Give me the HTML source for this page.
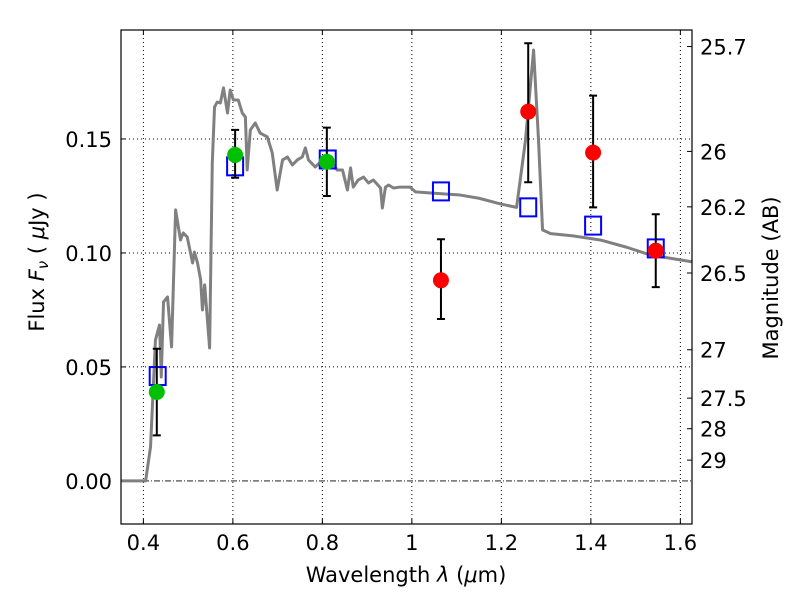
<!DOCTYPE html>
<html><head><meta charset="utf-8"><style>
body{margin:0;background:#fff}
svg text{font-family:"DejaVu Sans","Liberation Sans",sans-serif;font-size:21px;fill:#000}
</style></head><body>
<svg id="c" width="800" height="600" xmlns="http://www.w3.org/2000/svg"></svg>
<script>
const specX=[0.351,0.405,0.416,0.427,0.436,0.440,0.445,0.454,0.463,0.472,0.483,0.489,0.498,0.510,0.514,0.521,0.528,0.532,0.537,0.548,0.554,0.559,0.565,0.572,0.579,0.588,0.594,0.601,0.612,0.621,0.628,0.632,0.639,0.650,0.661,0.677,0.688,0.699,0.711,0.722,0.733,0.744,0.755,0.762,0.769,0.784,0.800,0.813,0.833,0.845,0.856,0.863,0.869,0.880,0.892,0.903,0.914,0.930,0.934,0.941,0.948,0.959,0.974,0.996,1.008,1.050,1.108,1.150,1.198,1.234,1.254,1.272,1.283,1.292,1.310,1.360,1.421,1.480,1.533,1.627];
const specY=[0,0,0.0149,0.0618,0.0684,0.0456,0.0785,0.0807,0.0588,0.1189,0.1057,0.1088,0.1070,0.0956,0.1004,0.0956,0.0882,0.0750,0.0860,0.0583,0.1395,0.1640,0.1662,0.1658,0.1724,0.1614,0.1715,0.1671,0.1671,0.1614,0.1596,0.1364,0.1539,0.1570,0.1526,0.1509,0.1439,0.1276,0.1408,0.1421,0.1386,0.1408,0.1421,0.1461,0.1408,0.1377,0.1408,0.1421,0.1364,0.1364,0.1276,0.1373,0.1289,0.1320,0.1333,0.1307,0.1320,0.1285,0.1197,0.1289,0.1298,0.1285,0.1289,0.1289,0.1268,0.1262,0.1254,0.1240,0.1215,0.1200,0.1496,0.1890,0.1496,0.1101,0.1085,0.1075,0.1057,0.1025,0.0991,0.0961];
const ptX=[0.430,0.605,0.810,1.065,1.260,1.405,1.545];
const ptY=[0.039,0.143,0.140,0.088,0.162,0.144,0.101];
const errLo=[0.020,0.133,0.125,0.071,0.131,0.120,0.085];
const errHi=[0.058,0.154,0.155,0.106,0.192,0.169,0.117];
const ptCol=['#00c000','#00c000','#00c000','red','red','red','red'];
const sqX=[0.432,0.605,0.812,1.065,1.260,1.405,1.545];
const sqY=[0.046,0.138,0.141,0.127,0.120,0.112,0.102];
const xTicks=[0.4,0.6,0.8,1.0,1.2,1.4,1.6];
const xLabels=['0.4','0.6','0.8','1','1.2','1.4','1.6'];
const yTicks=[0,0.05,0.10,0.15];
const yLabels=['0.00','0.05','0.10','0.15'];
const magTicks=[25.7,26,26.2,26.5,27,27.5,28,29];

const L=121,R=692,T=30,B=524,X0=0.35,X1=1.626,Y0=-0.0189,Y1=0.1978;
const sx=v=>L+(v-X0)/(X1-X0)*(R-L);
const sy=v=>B-(v-Y0)/(Y1-Y0)*(B-T);
const svg=document.getElementById('c');
function el(t,a,p){const e=document.createElementNS('http://www.w3.org/2000/svg',t);for(const k in a)e.setAttribute(k,a[k]);(p||svg).appendChild(e);return e;}
let g;
xTicks.forEach((v,i)=>{
 g=el('line',{x1:sx(v),x2:sx(v),y1:T,y2:B,stroke:'#000','stroke-width':1,'stroke-dasharray':'1,3'});
 
 el('line',{x1:sx(v),x2:sx(v),y1:B,y2:B-5,stroke:'#000'});el('line',{x1:sx(v),x2:sx(v),y1:T,y2:T+5,stroke:'#000'});
 const t=el('text',{x:sx(v),y:B+26,'text-anchor':'middle'});t.textContent=xLabels[i];
 
});
yTicks.forEach((v,i)=>{
 if(v!==0){g=el('line',{x1:L,x2:R,y1:sy(v),y2:sy(v),stroke:'#000','stroke-width':1,'stroke-dasharray':'1,3'});
 }
 el('line',{x1:L,x2:L+5,y1:sy(v),y2:sy(v),stroke:'#000'});
 const t=el('text',{x:L-9,y:sy(v)+8,'text-anchor':'end'});t.textContent=yLabels[i];
 
});
g=el('line',{x1:L,x2:R,y1:sy(0),y2:sy(0),stroke:'#000','stroke-width':0.8,'stroke-dasharray':'6,2,1,2'});

magTicks.forEach(m=>{
 const f=Math.pow(10,(23.9-m)/2.5);
 el('line',{x1:R,x2:R-5,y1:sy(f),y2:sy(f),stroke:'#000'});
 const t=el('text',{x:R+8,y:sy(f)+8});t.textContent=String(m);
 
});
const sp=el('polyline',{points:specX.map((x,i)=>sx(x)+','+sy(specY[i])).join(' '),fill:'none',stroke:'#808080','stroke-width':3,'stroke-linejoin':'round'});

sqX.forEach((x,i)=>{
 const r=el('rect',{x:sx(x)-8,y:sy(sqY[i])-9,width:16,height:18,fill:'none',stroke:'#0000ff','stroke-width':2});
 
});
ptX.forEach((x,i)=>{
 const X=sx(x);
 const e=el('path',{d:`M${X},${sy(errLo[i])}V${sy(errHi[i])}M${X-4},${sy(errLo[i])}H${X+4}M${X-4},${sy(errHi[i])}H${X+4}`,stroke:'#000','stroke-width':2});
 
 const c=el('circle',{cx:X,cy:sy(ptY[i]),r:8,fill:ptCol[i]});
 
});
g=el('rect',{x:L,y:T,width:R-L,height:B-T,fill:'none',stroke:'#000','stroke-width':1.2});

let t=el('text',{x:406,y:582,'text-anchor':'middle'});
t.innerHTML='Wavelength  <tspan font-style="italic">λ</tspan> (<tspan font-style="italic">μ</tspan>m)';

t=el('text',{x:0,y:0,'text-anchor':'middle',transform:'translate(44,262) rotate(-90)'});
t.innerHTML='Flux  <tspan font-style="italic">F</tspan><tspan font-style="italic" font-size="15" dy="4">ν</tspan><tspan dy="-4">  ( </tspan><tspan font-style="italic">μ</tspan>Jy )';

t=el('text',{x:0,y:0,'text-anchor':'middle',transform:'translate(778,278) rotate(-90)'});t.textContent='Magnitude (AB)';

</script>
</body></html>
